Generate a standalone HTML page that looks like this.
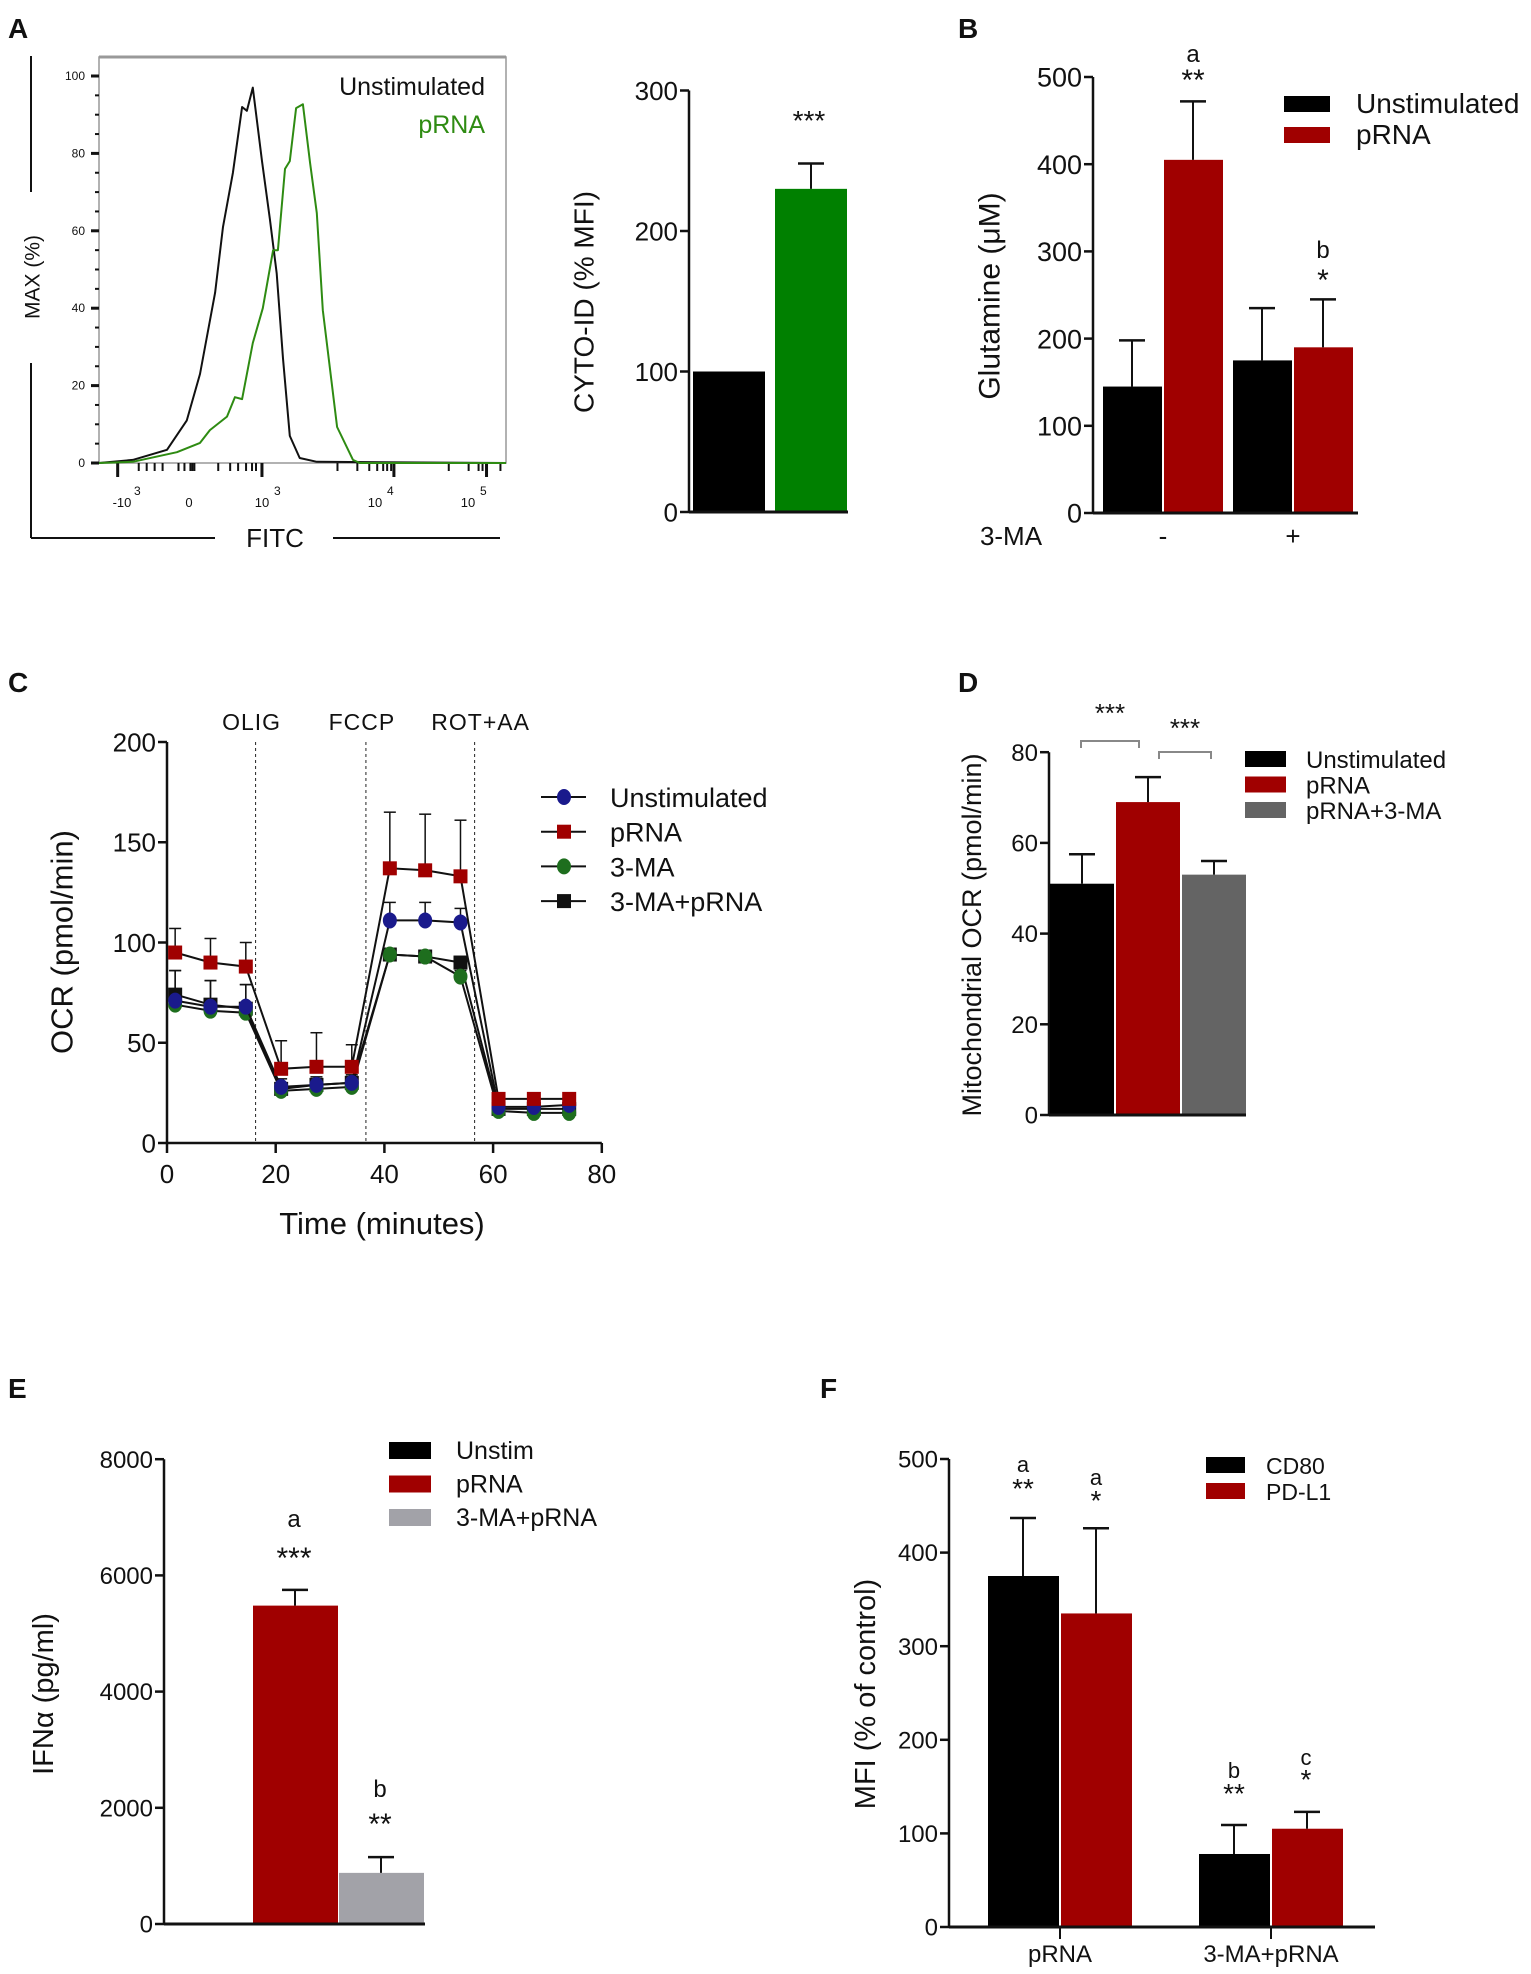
<!DOCTYPE html>
<html><head><meta charset="utf-8"><style>
html,body{margin:0;padding:0;background:#fff;}
svg{display:block;font-family:"Liberation Sans",Arial,sans-serif;}
</style></head><body>
<svg id="fig" width="1531" height="1974" viewBox="0 0 1531 1974" xmlns="http://www.w3.org/2000/svg"></svg>
<script>
// ---------- DATA ----------
// Panel A histogram (channel 0-1024, % of max)
const histBlackCh = [0,85,171,221,254,292,312,337,360,372,387,410,430,447,463,480,505,548,1024];
const histBlackV  = [0,0.8,3.4,11,23,44,61,75,92,91,97,78,63,49,27,7,1.3,0.3,0];
const histGreenCh = [0,85,196,254,279,322,342,360,387,412,438,450,468,480,496,513,531,548,563,599,639,656,1024];
const histGreenV  = [0,0.3,2.8,5.2,8.5,12,17,16.5,31,40,55,55,76,78,91.7,92.7,77.5,64.6,39.5,9.3,0.8,0,0];
const histYTicks = [0,20,40,60,80,100];
// Panel A bar
const cytoCats = ['Unstimulated','pRNA'];
const cytoVals = [100,230];
const cytoErr  = [0,18];
const cytoTicks = [0,100,200,300];
// Panel B
const glnGroups = ['-','+'];
const glnUnstim = [145,175];
const glnUnstimErr = [53,60];
const glnPrna = [405,190];
const glnPrnaErr = [67,55];
const glnTicks = [0,100,200,300,400,500];
// Panel C
const ocrTimes = [1.5,8,14.5,21,27.5,34,41,47.5,54,61,67.5,74];
const ocrUnstim = [71,68,68,28,29,30,111,111,110,18,18,19];
const ocrUnstimErr = [15,13,11,4,4,4,9,9,7,2,2,2];
const ocrPrna = [95,90,88,37,38,38,137,136,133,22,22,22];
const ocrPrnaErr = [12,12,12,14,17,11,28,28,28,2,2,2];
const ocr3ma = [69,66,65,26,27,28,94,93,83,16,15,15];
const ocr3maErr = [3,3,3,2,2,2,3,3,3,1,1,1];
const ocr3maPrna = [74,69,67,27,29,30,94,93,90,17,17,17];
const ocr3maPrnaErr = [12,12,12,3,3,3,3,3,3,1,1,1];
const ocrXTicks = [0,20,40,60,80];
const ocrYTicks = [0,50,100,150,200];
const injTimes = [16.3,36.6,56.6];
const injLabels = ['OLIG','FCCP','ROT+AA'];
// Panel D
const mitoCats = ['Unstimulated','pRNA','pRNA+3-MA'];
const mitoVals = [51,69,53];
const mitoErr = [6.5,5.5,3];
const mitoTicks = [0,20,40,60,80];
// Panel E
const ifnCats = ['Unstim','pRNA','3-MA+pRNA'];
const ifnVals = [20,5480,880];
const ifnErr = [0,270,270];
const ifnTicks = [0,2000,4000,6000,8000];
// Panel F
const mfiGroups = ['pRNA','3-MA+pRNA'];
const mfiCd80 = [375,78];
const mfiCd80Err = [62,31];
const mfiPdl1 = [335,105];
const mfiPdl1Err = [91,18];
const mfiTicks = [0,100,200,300,400,500];

// ---------- HELPERS ----------
const NS='http://www.w3.org/2000/svg';
const svg=document.getElementById('fig');
function mk(tag,a,p){const e=document.createElementNS(NS,tag);for(const k in a)e.setAttribute(k,a[k]);(p||svg).appendChild(e);return e;}
function T(x,y,s,size,anchor,extra){const a=Object.assign({x:x,y:y,'font-size':size,'text-anchor':anchor||'middle',fill:'#111'},extra||{});const e=mk('text',a);e.textContent=s;return e;}
function grp(){return mk('g',{});}
function L(x1,y1,x2,y2,w,c,p){return mk('line',{x1:x1,y1:y1,x2:x2,y2:y2,stroke:c||'#111','stroke-width':w||2},p);}
function yAxis(ax,ys,lo,hi,ticks,fs,name){
  const g=grp();
  
  
  L(ax,ys(hi),ax,ys(lo),2.5,'#111',g);
  ticks.forEach(t=>{L(ax-9,ys(t),ax,ys(t),2.5,'#111',g);
    const tx=T(ax-11,ys(t)+fs*0.36,String(t),fs,'end');g.appendChild(tx);
    
    });
  return g;
}
function errBar(cx,yTop,yErr,cap){
  const g=grp();
  
  
  L(cx,yTop,cx,yErr,2,'#111',g);L(cx-cap,yErr,cx+cap,yErr,2.5,'#111',g);
  return g;
}
function rotLabel(x,y,s,fs,name){
  const e=T(x,y,s,fs,'middle',{transform:'rotate(-90 '+x+' '+y+')','dominant-baseline':'central'});
  
  
  return e;
}
function bar(x,w,y0,yv,color,name){
  const r=mk('rect',{x:x,y:Math.min(yv,y0),width:w,height:Math.abs(y0-yv),fill:color});
  
  
  return r;
}
function panelLetter(x,y,s){const e=T(x,y,s,28,'start',{'font-weight':'bold'});
  
  }
const RED='#a00000';

// ---------- PANEL A ----------
panelLetter(8,38,'A');
(function(){
  const bx0=99,bx1=506,by0=57,by1=463;
  const xs=c=>bx0+c*(bx1-bx0)/1024, ys=v=>by1-v*3.87;
  const frame=mk('rect',{x:bx0,y:by0,width:bx1-bx0,height:by1-by0,fill:'none',stroke:'#999','stroke-width':1.5});
  
  
  L(bx0,by0,bx1,by0,3,'#999');
  // y ticks minor
  for(let v=0;v<=100;v+=5){L(bx0-(v%20===0?8:4),ys(v),bx0,ys(v),v%20===0?3:2,'#111');}
  histYTicks.forEach(t=>{const e=T(bx0-14,ys(t)+4,String(t),12,'end');
    
    });
  // x ticks
  const majors=[47,410,742,975];
  majors.forEach(c=>L(xs(c),by1,xs(c),by1+14,3,'#111'));
  const minors=[100,120,140,160,200,215,230,235,240,300,330,350,370,385,395,600,650,680,700,715,725,735,880,930,955,965,1010];
  minors.forEach(c=>L(xs(c),by1,xs(c),by1+8,2,'#111'));
  const xl=[['-10',122,'3'],['0',189,''],['10',262,'3'],['10',375,'4'],['10',468,'5']];
  xl.forEach(d=>{const e=T(d[1],507,d[0],13,'middle');
    
    
    if(d[2]){const s=T(d[1]+12,495,d[2],12,'start');
      
      }});
  function path(chs,vs,color,name){
    let d='';chs.forEach((c,i)=>{d+=(i?'L':'M')+xs(c).toFixed(1)+','+ys(vs[i]).toFixed(1);});
    const p=mk('path',{d:d,fill:'none',stroke:color,'stroke-width':2,'stroke-linejoin':'round'});
    
    
  }
  path(histBlackCh,histBlackV,'#111','histogram-unstimulated');
  path(histGreenCh,histGreenV,'#2e8b12','histogram-prna');
  let e=T(485,95,'Unstimulated',25,'end');
  
  
  e=T(485,133,'pRNA',25,'end',{fill:'#2e8b12'});
  
  
  // outer axes
  L(31,56,31,192,2,'#111');L(31,363,31,538,2,'#111');
  L(31,538,215,538,2,'#111');L(333,538,500,538,2,'#111');
  rotLabel(33,277,'MAX (%)',21,'hist-y-axis-title');
  e=T(275,547,'FITC',26,'middle');
  
  
})();
(function(){
  const ax=689,y0=512,k=1.405,ys=v=>y0-v*k;
  yAxis(ax,ys,0,300,cytoTicks,26,'cyto-y-axis');
  const colors=['#000','#008000'];
  cytoVals.forEach((v,i)=>{const x=693+i*82;
    bar(x,72,y0,ys(v),colors[i],'bar-cyto-'+cytoCats[i].toLowerCase());
    if(cytoErr[i]>0)errBar(x+36,ys(v),ys(v+cytoErr[i]),13);});
  L(ax,y0,848,y0,3,'#111');
  const s=T(809,130,'***',28,'middle');
  
  
  rotLabel(584,302,'CYTO-ID (% MFI)',28,'cyto-y-axis-title');
})();

// ---------- PANEL B ----------
panelLetter(958,38,'B');
(function(){
  const ax=1093,y0=513,k=0.872,ys=v=>y0-v*k;
  yAxis(ax,ys,0,500,glnTicks,27,'glutamine-y-axis');
  glnGroups.forEach((g,i)=>{
    const x=1103+i*130;
    bar(x,59,y0,ys(glnUnstim[i]),'#000','bar-unstim-'+(i?'plus':'minus'));
    errBar(x+29,ys(glnUnstim[i]),ys(glnUnstim[i]+glnUnstimErr[i]),13);
    bar(x+61,59,y0,ys(glnPrna[i]),RED,'bar-prna-'+(i?'plus':'minus'));
    errBar(x+90,ys(glnPrna[i]),ys(glnPrna[i]+glnPrnaErr[i]),13);
    const t=T(x+60,545,g,26,'middle');
    
    
  });
  L(ax,y0,1358,y0,3,'#111');
  let e=T(1011,545,'3-MA',26,'middle');
  
  
  [['a',1193,62,24],['**',1193,90,30],['b',1323,258,24],['*',1323,290,30]].forEach(a=>{
    const t=T(a[1],a[2],a[0],a[3],'middle');
    
    });
  [['Unstimulated','#000',96],['pRNA',RED,127]].forEach(l=>{
    const r=mk('rect',{x:1284,y:l[2],width:46,height:16,fill:l[1]});
    
    
    const t=T(1356,l[2]+17,l[0],28,'start');
    
    });
  rotLabel(990,296,'Glutamine (\u03BCM)',30,'glutamine-y-axis-title');
})();

// ---------- PANEL C ----------
panelLetter(8,692,'C');
(function(){
  const ax=167,y0=1143,xs=t=>ax+t*5.435,ys=v=>y0-v*2.005;
  yAxis(ax,ys,0,200,ocrYTicks,26,'ocr-y-axis');
  L(ax,y0,xs(80),y0,2.5,'#111');
  ocrXTicks.forEach(t=>{L(xs(t),y0,xs(t),y0+10,2.5,'#111');
    const e=T(xs(t),y0+40,String(t),26,'middle');
    
    });
  injTimes.forEach((t,i)=>{
    const l=mk('line',{x1:xs(t),y1:ys(200),x2:xs(t),y2:y0,stroke:'#222','stroke-width':1,'stroke-dasharray':'3,3'});
    
    
    const e=T(xs(t)-(i==2?-6:4),730,injLabels[i],23,'middle',{'letter-spacing':'1'});
    
    });
  const series=[
    [ocr3maPrna,ocr3maPrnaErr,'#111','sq','series-3ma-prna'],
    [ocr3ma,ocr3maErr,'#1e6e1e','ci','series-3ma'],
    [ocrUnstim,ocrUnstimErr,'#1a1a8c','ci','series-unstimulated'],
    [ocrPrna,ocrPrnaErr,RED,'sq','series-prna']];
  series.forEach(s=>{
    const g=grp();
    
    
    let d='';
    s[0].forEach((v,i)=>{d+=(i?'L':'M')+xs(ocrTimes[i]).toFixed(1)+','+ys(v).toFixed(1);});
    mk('path',{d:d,fill:'none',stroke:'#111','stroke-width':2},g);
    s[0].forEach((v,i)=>{
      const x=xs(ocrTimes[i]),y=ys(v),ye=ys(v+s[1][i]);
      L(x,y,x,ye,1.5,'#111',g);L(x-6,ye,x+6,ye,1.5,'#111',g);
      let m;
      if(s[3]==='sq')m=mk('rect',{x:x-7,y:y-7,width:14,height:14,fill:s[2]},g);
      else m=mk('ellipse',{cx:x,cy:y,rx:7,ry:8,fill:s[2]},g);
      
      
    });
  });
  const leg=[['Unstimulated','#1a1a8c','ci'],['pRNA',RED,'sq'],['3-MA','#1e6e1e','ci'],['3-MA+pRNA','#111','sq']];
  leg.forEach((l,i)=>{const y=797+i*34.7;
    L(541,y,586,y,2,'#111');
    const m=l[2]==='sq'?mk('rect',{x:557,y:y-7,width:14,height:14,fill:l[1]}):mk('ellipse',{cx:564,cy:y,rx:7,ry:8,fill:l[1]});
    
    
    const t=T(610,y+10,l[0],27,'start');
    
    });
  rotLabel(62,942,'OCR (pmol/min)',31,'ocr-y-axis-title');
  const e=T(382,1234,'Time (minutes)',31,'middle');
  
  
})();

// ---------- PANEL D ----------
panelLetter(958,692,'D');
(function(){
  const ax=1049,y0=1115,k=4.535,ys=v=>y0-v*k;
  yAxis(ax,ys,0,80,mitoTicks,24,'mito-y-axis');
  const colors=['#000',RED,'#646464'];
  mitoVals.forEach((v,i)=>{const x=1050+i*66;
    bar(x,64,y0,ys(v),colors[i],'bar-mito-'+i);
    errBar(x+32,ys(v),ys(v+mitoErr[i]),13);});
  L(ax,y0,1246,y0,3,'#111');
  [[1081,1139,741,1110,722],[1159,1211,752,1185,737]].forEach(b=>{
    const p=mk('path',{d:'M'+b[0]+','+(b[2]+7)+'V'+b[2]+'H'+b[1]+'V'+(b[2]+7),fill:'none',stroke:'#888','stroke-width':2});
    
    
    const t=T(b[3],b[4],'***',26,'middle');
    
    });
  mitoCats.forEach((c,i)=>{const y=759+i*25.5;
    const r=mk('rect',{x:1245,y:y-8,width:41,height:16,fill:colors[i]});
    
    
    const t=T(1306,y+9,c,24,'start');
    
    });
  rotLabel(972,935,'Mitochondrial OCR (pmol/min)',27,'mito-y-axis-title');
})();

// ---------- PANEL E ----------
panelLetter(8,1398,'E');
(function(){
  const ax=164,y0=1924,k=0.0581,ys=v=>y0-v*k;
  yAxis(ax,ys,0,8000,ifnTicks,24,'ifn-y-axis');
  const colors=['#000',RED,'#a2a2a8'];
  ifnVals.forEach((v,i)=>{const x=167+i*86;
    bar(x,85,y0,ys(v),colors[i],'bar-ifn-'+i);
    if(ifnErr[i]>0)errBar(x+42,ys(v),ys(v+ifnErr[i]),13);});
  L(ax,y0,425,y0,3,'#111');
  [['a',294,1527,24],['***',294,1568,30],['b',380,1797,24],['**',380,1834,30]].forEach(a=>{
    const t=T(a[1],a[2],a[0],a[3],'middle');
    
    });
  ifnCats.forEach((c,i)=>{const y=1450+i*33.5;
    const r=mk('rect',{x:389,y:y-8,width:42,height:17,fill:colors[i]});
    
    
    const t=T(456,y+9,c,25,'start');
    
    });
  rotLabel(44,1694,'IFN\u03B1 (pg/ml)',29,'ifn-y-axis-title');
})();

// ---------- PANEL F ----------
panelLetter(820,1398,'F');
(function(){
  const ax=949,y0=1927,k=0.936,ys=v=>y0-v*k;
  yAxis(ax,ys,0,500,mfiTicks,24,'mfi-y-axis');
  mfiGroups.forEach((g,i)=>{const x=988+i*211;
    bar(x,71,y0,ys(mfiCd80[i]),'#000','bar-cd80-'+i);
    errBar(x+35,ys(mfiCd80[i]),ys(mfiCd80[i]+mfiCd80Err[i]),13);
    bar(x+73,71,y0,ys(mfiPdl1[i]),RED,'bar-pdl1-'+i);
    errBar(x+108,ys(mfiPdl1[i]),ys(mfiPdl1[i]+mfiPdl1Err[i]),13);
    L(x+72,y0,x+72,y0+12,2,'#111');
    const t=T(x+72,1962,g,24,'middle');
    
    });
  L(ax,y0,1375,y0,3,'#111');
  [['a',1023,1472],['**',1023,1498],['a',1096,1485],['*',1096,1510],['b',1234,1778],['**',1234,1803],['c',1306,1765],['*',1306,1789]].forEach(a=>{
    const t=T(a[1],a[2],a[0],a[0].indexOf('*')>=0?28:22,'middle');
    
    });
  [['CD80','#000',1465],['PD-L1',RED,1491]].forEach(l=>{
    const r=mk('rect',{x:1206,y:l[2]-8,width:39,height:16,fill:l[1]});
    
    
    const t=T(1266,l[2]+9,l[0],23,'start');
    
    });
  rotLabel(866,1694,'MFI (% of control)',29,'mfi-y-axis-title');
})();
</script>
</body></html>
